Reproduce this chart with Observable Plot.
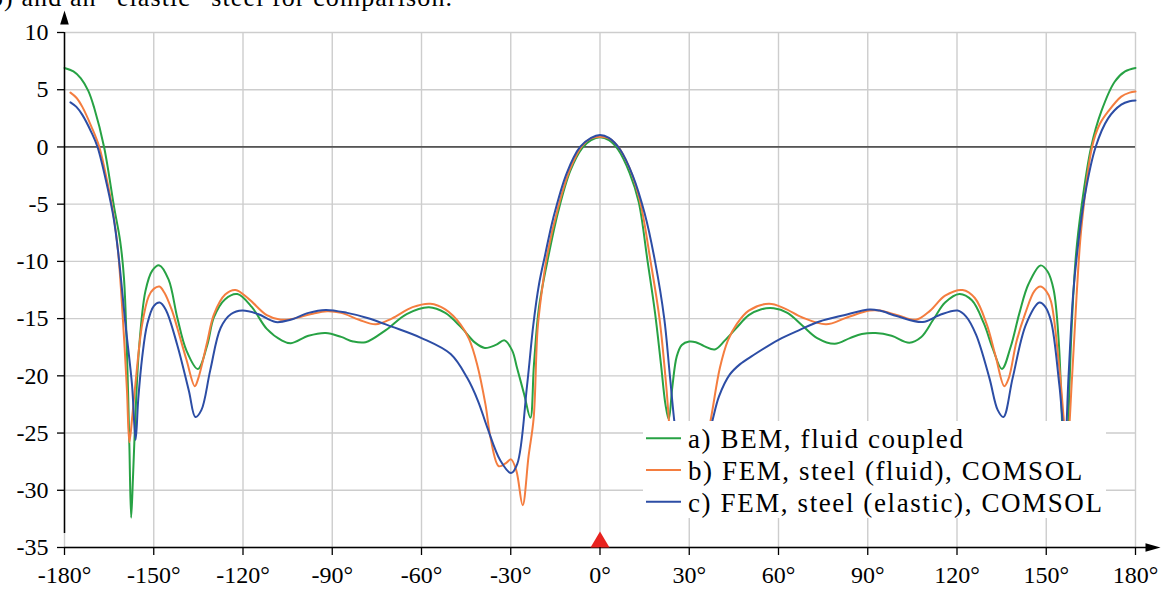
<!DOCTYPE html>
<html>
<head>
<meta charset="utf-8">
<script src="https://cdn.jsdelivr.net/npm/d3@7"></script>
<script src="https://cdn.jsdelivr.net/npm/@observablehq/plot@0.6"></script>
<style>
html, body { margin: 0; padding: 0; background: #fff; overflow: hidden; }
#wrap { position: relative; width: 1176px; height: 589px; overflow: hidden; font-family: "Liberation Serif", "Times New Roman", serif; }
#caption { position: absolute; left: -10px; top: -15px; font-size: 26px; line-height: 26px; letter-spacing: 1.1px; white-space: nowrap; color: #000; }
#chart { position: absolute; left: 0; top: 0; }
#chart svg text { font-family: "Liberation Serif", "Times New Roman", serif !important; }
#legend { position: absolute; left: 643px; top: 421px; width: 463px; height: 97px; background: #fff; }
</style>
</head>
<body>
<div id="wrap">
  <div id="chart"></div>
  <div id="caption"></div>
  <div id="legend"></div>
</div>
<script>
// ---- data ----
const captionText = "b) and an \u201celastic\u201d steel for comparison.";
const angleTicks = [-180, -150, -120, -90, -60, -30, 0, 30, 60, 90, 120, 150, 180];
const levelTicks = [-35, -30, -25, -20, -15, -10, -5, 0, 5, 10];
const seriesNames = ["a) BEM, fluid coupled", "b) FEM, steel (fluid), COMSOL", "c) FEM, steel (elastic), COMSOL"];
const seriesColors = ["#27a244", "#f47d3f", "#2c4da5"];
const markerAngle = 0;

// a) BEM, fluid coupled  [angle, dB]
const bemFluid = [
  [-180, 6.9], [-177, 6.6], [-174.5, 6.0], [-172, 4.9], [-170, 3.4], [-166.7, 0], [-163.3, -5.3],
  [-161.3, -8.2], [-160, -11.5], [-159, -18], [-158.2, -26], [-157.6, -32.4], [-157, -29],
  [-156.4, -25], [-155, -17.8], [-152.8, -12.6], [-150.5, -10.8], [-148.1, -10.35], [-145, -11.6],
  [-142.1, -14.9], [-139, -17.8], [-135.2, -19.4], [-132, -17.3], [-129.8, -14.9], [-126, -13.3],
  [-121.9, -12.85], [-117, -14.0], [-112, -15.9], [-107, -16.9], [-103.9, -17.15], [-98, -16.5],
  [-92.2, -16.25], [-87, -16.6], [-83, -17.0], [-78.8, -17.06], [-72, -16.0], [-65, -14.6],
  [-57.5, -14.0], [-52, -14.5], [-46.9, -15.7], [-42, -17.1], [-38.7, -17.56], [-35, -17.3],
  [-32.1, -16.9], [-29.5, -17.8], [-27.9, -19.3], [-25.5, -21.6], [-23.4, -23.66], [-22.2, -19],
  [-20.5, -14], [-17.3, -9.5], [-14, -5.6], [-10, -2.1], [-6, -0.1], [-3, 0.6], [0, 0.85],
  [3, 0.6], [6, -0.2], [10, -2.3], [13, -4.8], [16, -10], [18.5, -14.5], [20.5, -19], [22, -22.5],
  [23.1, -23.8], [24.3, -21], [25.8, -18.3], [27.5, -17.3], [30, -17.0], [32.2, -17.06], [35, -17.4],
  [38.6, -17.7], [42, -16.9], [45.9, -15.8], [50, -14.7], [54, -14.2], [58.4, -14.1], [63, -14.5],
  [68, -15.6], [73, -16.7], [78.9, -17.2], [84, -16.7], [88, -16.35], [92.6, -16.26], [98, -16.5],
  [104, -17.1], [108, -16.6], [112, -15.1], [116, -13.6], [120.8, -12.85], [125, -13.4], [129, -15.4],
  [132, -17.6], [135.1, -19.4], [138, -17.5], [141, -14.5], [144, -12.0], [148.1, -10.35], [150.5, -10.9],
  [152.5, -12.5], [154.2, -17], [155.3, -24], [156.3, -32], [157.3, -25], [158.5, -16], [160, -9.4],
  [161.8, -5.3], [165.1, 0], [168.5, 3.1], [173, 5.7], [176.5, 6.6], [180, 6.9]
];

// b) FEM, steel (fluid), COMSOL
const femFluid = [
  [-178, 4.75], [-176, 4.3], [-174, 3.5], [-171, 1.8], [-168.3, 0], [-165.5, -3.2], [-163.5, -6],
  [-162, -9.1], [-160.5, -14.5], [-159, -21.3], [-158.2, -25.8], [-157.2, -23.5], [-156.2, -20.8],
  [-153.9, -15.5], [-151.7, -13.05], [-150, -12.4], [-148.1, -12.2], [-146.5, -12.7], [-144, -14.2],
  [-142.1, -15.8], [-139, -18.6], [-136.2, -20.9], [-135, -20.2], [-132, -17.0], [-129.8, -14.65],
  [-126, -12.9], [-122.5, -12.5], [-118, -13.3], [-112, -14.7], [-107.3, -15.1], [-103, -15.0],
  [-97, -14.6], [-91.7, -14.36], [-87, -14.5], [-81, -15.1], [-75.4, -15.5], [-70, -15.0],
  [-63, -14.0], [-57, -13.7], [-52, -14.2], [-46.9, -15.5], [-44, -16.8], [-41.3, -19.0],
  [-38.5, -22.5], [-36.8, -25.4], [-34, -27.9], [-31.5, -27.6], [-29.9, -27.3], [-28.1, -28.3],
  [-26, -31.3], [-24, -27], [-22.3, -23.7], [-21, -16], [-19.5, -12.5], [-17.8, -9.5], [-14, -5.2],
  [-10, -1.9], [-6, 0.1], [-3, 0.75], [0, 0.9],
  [3, 0.75], [6, 0.05], [10, -1.9], [13.5, -4.8], [17, -10], [20, -15], [22.3, -21], [23.5, -25],
  [25, -29], [27, -32], [28.5, -28.5], [30.5, -27.5], [33, -28], [35, -26.5], [37.1, -24],
  [40.3, -19.3], [43, -16.9], [45.9, -15.5], [50, -14.3], [56.8, -13.7], [62, -14.1], [68, -14.9],
  [76, -15.5], [83, -14.9], [90.6, -14.3], [94, -14.3], [100, -14.7], [106.2, -15.1], [111, -14.3],
  [116, -13.0], [121.9, -12.5], [126, -13.2], [130, -15.5], [133, -18.3], [135.9, -20.9],
  [137.4, -20.2], [140, -17], [143, -14.5], [146, -12.6], [148, -12.2], [150, -12.6], [151.6, -13.5],
  [154.4, -19.3], [157, -26], [158.7, -20], [160.2, -13], [161.8, -7.1], [165.4, 0], [168, 2.0],
  [170.8, 3.1], [175.2, 4.4], [178, 4.75], [180, 4.85]
];

// c) FEM, steel (elastic), COMSOL
const femElastic = [
  [-178, 3.9], [-176, 3.5], [-174, 2.8], [-171, 1.3], [-168.9, 0], [-165.5, -3.6], [-163.5, -6.2],
  [-162, -9.1], [-159.5, -15.5], [-157.3, -20.8], [-156.1, -25.6], [-155.2, -22], [-153.9, -18.4],
  [-152.2, -15.5], [-150, -13.9], [-148, -13.6], [-146, -14.2], [-142.1, -17.3], [-138.2, -21.3],
  [-136, -23.6], [-134, -23.0], [-131, -19.5], [-127.5, -15.8], [-124, -14.6], [-120.2, -14.3],
  [-115, -14.6], [-109, -15.3], [-104, -15.1], [-98, -14.5], [-92.2, -14.24], [-85, -14.5],
  [-78.2, -14.94], [-70, -15.7], [-60, -16.7], [-50.2, -18.1], [-44.6, -20.2], [-41, -22.2],
  [-37.9, -24.5], [-33.5, -27.4], [-29.9, -28.5], [-27.8, -27.7], [-24.5, -20.8], [-22.4, -15.5],
  [-20.5, -12], [-18.5, -9.5], [-15.7, -6.2], [-11.2, -2.3], [-6.7, 0], [-3, 0.8], [0, 1.05],
  [3, 0.8], [6.7, -0.2], [11, -2.5], [15, -5.8], [18.5, -10], [21.6, -15], [23.5, -20], [25.5, -25],
  [27.5, -27.5], [30, -28.5], [32, -27.8], [35, -26.5], [37.7, -24], [40, -21.8], [43.6, -19.9],
  [47, -19], [51.5, -18.2], [60, -16.85], [67, -16], [73.8, -15.25], [82, -14.7], [90.6, -14.2],
  [94, -14.3], [100, -14.8], [108.5, -15.3], [114, -14.7], [120.2, -14.3], [123, -14.8], [126.4, -16.4],
  [130.9, -20.2], [133.7, -23.0], [135.6, -23.6], [138.7, -20.2], [143.2, -15.5], [147.7, -13.6],
  [149.5, -13.9], [151.6, -15.2], [154.4, -20.8], [156.3, -25.6], [157.5, -20], [159, -13],
  [160.5, -9], [163, -4.2], [166.6, 0], [170.8, 2.5], [175.2, 3.7], [178, 4.0], [180, 4.05]
];

// ---- build ----
const seriesData = [bemFluid, femFluid, femElastic];
const rows = seriesData.flatMap((arr, i) => arr.map(([angle, level]) => ({angle, level, series: i})));

const xMin = angleTicks[0], xMax = angleTicks[angleTicks.length - 1];
const yMin = levelTicks[0], yMax = levelTicks[levelTicks.length - 1];

const arrowUp = {draw(ctx) { ctx.moveTo(0, -22); ctx.lineTo(4.3, -8); ctx.lineTo(-4.3, -8); ctx.closePath(); }};
const arrowRight = {draw(ctx) { ctx.moveTo(25, 0); ctx.lineTo(10, -4.3); ctx.lineTo(10, 4.3); ctx.closePath(); }};
const redMarker = {draw(ctx) { ctx.moveTo(0, -16); ctx.lineTo(9.5, 0); ctx.lineTo(-9.5, 0); ctx.closePath(); }};

const serif = "Liberation Serif, Times New Roman, serif";

const chart = Plot.plot({
  width: 1176,
  height: 589,
  marginTop: 32,
  marginBottom: 42,
  marginLeft: 64,
  marginRight: 41,
  x: {domain: [xMin, xMax]},
  y: {domain: [yMin, yMax]},
  style: {fontFamily: serif, fontSize: "24px", background: "transparent", color: "#000", overflow: "visible"},
  marks: [
    Plot.gridX(angleTicks, {stroke: "#cdcdcd", strokeOpacity: 1, strokeWidth: 1.4}),
    Plot.gridY(levelTicks, {stroke: "#cdcdcd", strokeOpacity: 1, strokeWidth: 1.4}),
    Plot.ruleY([0], {stroke: "#555", strokeWidth: 1.7}),
    Plot.line(rows, {x: "angle", y: "level", z: "series", stroke: d => seriesColors[d.series], strokeWidth: 2, curve: "catmull-rom"}),
    Plot.ruleX([xMin], {y1: yMin, y2: yMax, insetTop: -14, stroke: "#000", strokeWidth: 1.5}),
    Plot.ruleY([yMin], {x1: xMin, x2: xMax, insetRight: -14, stroke: "#000", strokeWidth: 1.5}),
    Plot.dot([{a: xMin, v: yMax}], {x: "a", y: "v", symbol: arrowUp, fill: "#000", stroke: "none", r: 1}),
    Plot.dot([{a: xMax, v: yMin}], {x: "a", y: "v", symbol: arrowRight, fill: "#000", stroke: "none", r: 1}),
    Plot.dot([{a: markerAngle, v: yMin}], {x: "a", y: "v", symbol: redMarker, fill: "#e8231f", stroke: "none", r: 1}),
    Plot.axisX({ticks: angleTicks, anchor: "bottom", tickSize: 8, tickPadding: 10, tickFormat: d => `${d}°`, label: null, fontSize: 24, fontFamily: serif, stroke: "#000", strokeWidth: 1.3}),
    Plot.axisY({ticks: levelTicks, anchor: "left", tickSize: 7, tickPadding: 9, tickFormat: d => `${d}`, label: null, fontSize: 24, fontFamily: serif, stroke: "#000", strokeWidth: 1.3})
  ]
});
chart.setAttribute("font-family", serif);
chart.querySelectorAll("text").forEach(t => t.setAttribute("font-family", serif));
document.getElementById("chart").appendChild(chart);

document.getElementById("caption").textContent = captionText;

// legend
const lg = d3.select("#legend").append("svg").attr("width", 463).attr("height", 97).style("overflow", "visible");
const baselines = [27.3, 59, 90.7];
seriesNames.forEach((name, i) => {
  lg.append("line").attr("x1", 3).attr("x2", 38).attr("y1", baselines[i] - 10).attr("y2", baselines[i] - 10)
    .attr("stroke", seriesColors[i]).attr("stroke-width", 2);
  lg.append("text").attr("x", 45).attr("y", baselines[i]).text(name)
    .attr("font-family", serif).attr("font-size", 27)
    .attr("letter-spacing", 1.6).attr("fill", "#000");
});
</script>
</body>
</html>
